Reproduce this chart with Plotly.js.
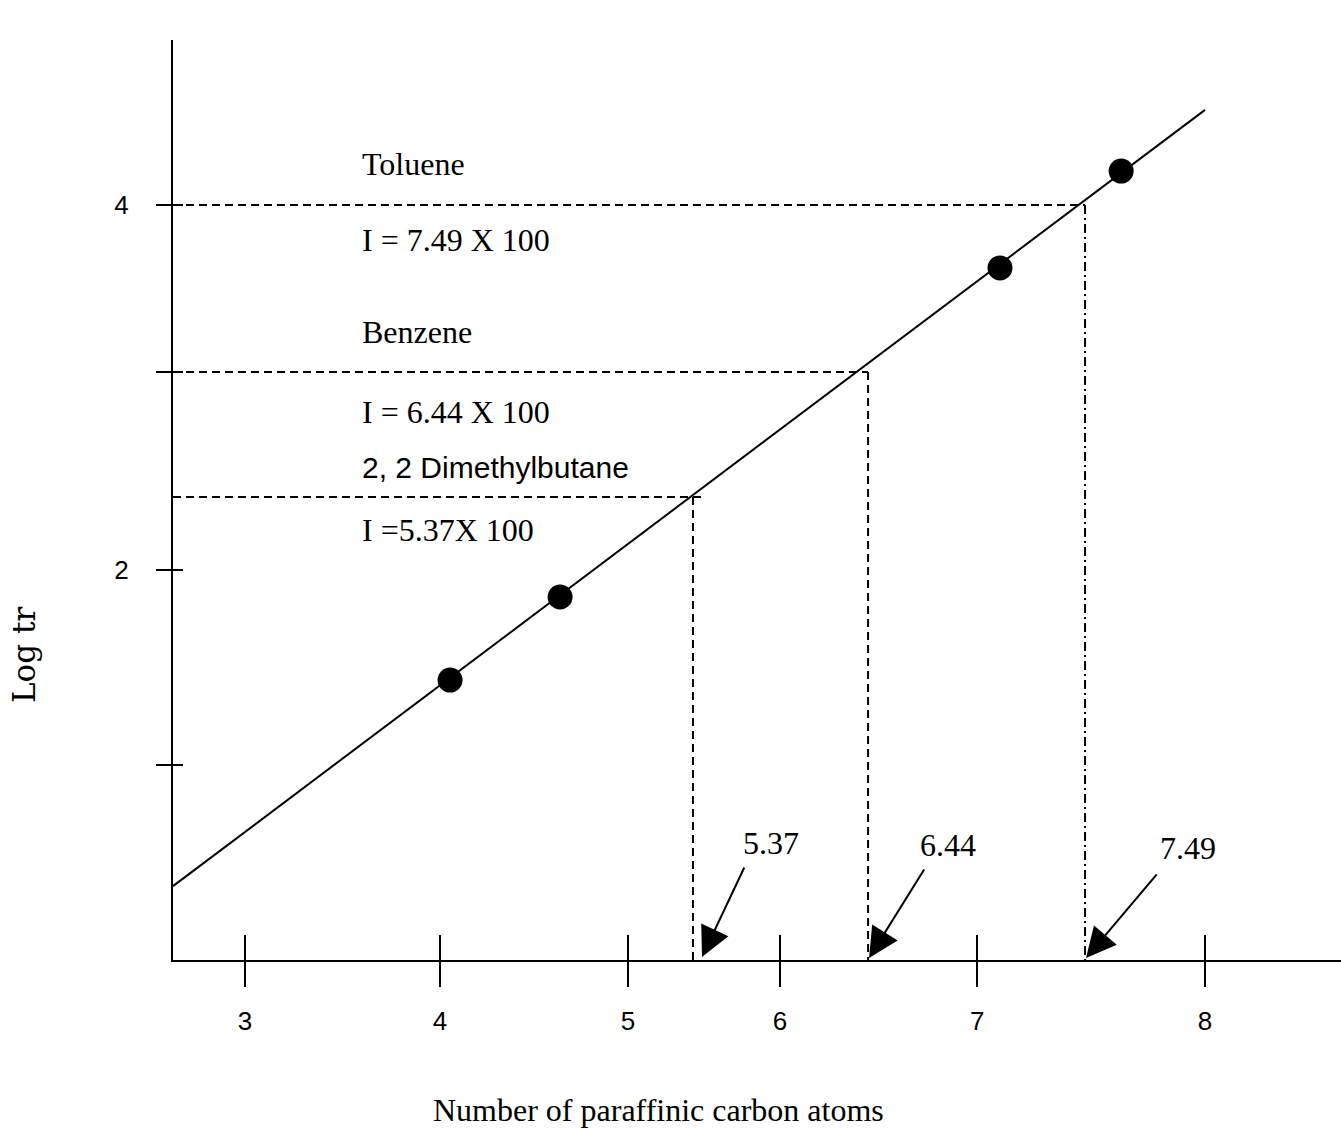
<!DOCTYPE html>
<html>
<head>
<meta charset="utf-8">
<script src="https://cdn.plot.ly/plotly-3.0.1.min.js"></script>
<style>
html,body{margin:0;padding:0;background:#fff;}
#chart{width:1341px;height:1130px;}
</style>
</head>
<body>
<div id="chart"></div>
<script>
// Axis units: x is a uniform scale through the drawn "3" and "8" ticks; y through "2" and "4".
var xTickVals = [3, 4.016, 4.995, 5.786, 6.813, 8];
var xTickText = ['3', '4', '5', '6', '7', '8'];
var yTickVals = [0.932, 2, 3.085, 4];
var yTickText = ['', '2', '', '4'];

// Measured points (paraffin standards)
var pointX = [4.068, 4.641, 6.932, 7.563];
var pointY = [1.397, 1.852, 3.655, 4.186];

// Fitted straight line
var lineX = [2.625, 8.000];
var lineY = [0.268, 4.521];

// Compounds: log tr level, horizontal end, vertical drop position
var compounds = ['2, 2 Dimethylbutane', 'Benzene', 'Toluene'];
var indexValues = ['5.37', '6.44', '7.49'];
var levelY = [2.400, 3.085, 4.000];
var hEndX = [5.380, 6.245, 7.375];
var dropX = [5.333, 6.245, 7.375];
var dashStyles = ['8px,5px', '8px,5px', '9px,4px,2px,4px'];

var xMin = 2.625, xMax = 8.708, yMin = -0.137, yMax = 4.904;

var traces = [];
for (var i = 0; i < compounds.length; i++) {
  traces.push({
    x: [xMin, hEndX[i]], y: [levelY[i], levelY[i]],
    mode: 'lines', line: {color: '#000', width: 2, dash: '8px,5px'},
    hoverinfo: 'skip', showlegend: false
  });
  traces.push({
    x: [dropX[i], dropX[i]], y: [levelY[i], yMin],
    mode: 'lines', line: {color: '#000', width: 2, dash: dashStyles[i]},
    hoverinfo: 'skip', showlegend: false
  });
}
traces.push({
  x: lineX, y: lineY, mode: 'lines',
  line: {color: '#000', width: 2}, showlegend: false, hoverinfo: 'skip'
});
traces.push({
  x: pointX, y: pointY, mode: 'markers',
  marker: {color: '#000', size: 25}, showlegend: false
});
// invisible trace on overlay axes so crossing ticks are drawn
traces.push({
  x: [xMin], y: [yMin], xaxis: 'x2', yaxis: 'y2', mode: 'markers',
  marker: {opacity: 0}, showlegend: false, hoverinfo: 'skip'
});

var serif = 'Liberation Serif, Times New Roman, serif';
var sans = 'Liberation Sans, Arial, sans-serif';
var tf = {family: serif, size: 32, color: '#000'};

function txt(x, y, t, font) {
  return {x: x, y: y, xref: 'x', yref: 'y', text: t, showarrow: false,
          xanchor: 'left', yanchor: 'middle', font: font || tf};
}

function arrow(tx, ty, ax, ay) {
  return {x: tx, y: ty, ax: ax, ay: ay, xref: 'x', yref: 'y', axref: 'x', ayref: 'y',
          text: '', showarrow: true, arrowhead: 2, arrowsize: 3, arrowwidth: 2,
          arrowcolor: '#000', standoff: 0};
}

var annotations = [
  txt(3.600, 4.225, 'Toluene'),
  txt(3.600, 3.808, 'I = 7.49 X 100'),
  txt(3.600, 3.304, 'Benzene'),
  txt(3.600, 2.866, 'I = 6.44 X 100'),
  txt(3.600, 2.559, compounds[0], {family: sans, size: 30, color: '#000'}),
  txt(3.600, 2.219, 'I =5.37X 100'),
  arrow(5.380, -0.121, 5.604, 0.378),
  arrow(6.250, -0.126, 6.542, 0.367),
  arrow(7.380, -0.126, 7.755, 0.340),
  {x: 5.740, y: 0.504, xref: 'x', yref: 'y', text: indexValues[0], showarrow: false, font: tf},
  {x: 6.661, y: 0.493, xref: 'x', yref: 'y', text: indexValues[1], showarrow: false, font: tf},
  {x: 7.911, y: 0.477, xref: 'x', yref: 'y', text: indexValues[2], showarrow: false, font: tf},
  // axis titles
  {xref: 'paper', yref: 'paper', x: (658 - 173) / 1168, y: -(1110 - 960) / 920,
   text: 'Number of paraffinic carbon atoms', showarrow: false,
   xanchor: 'center', yanchor: 'middle', font: tf},
  {xref: 'paper', yref: 'paper', x: -(173 - 24) / 1168, y: (960 - 655) / 920,
   text: 'Log tr', showarrow: false, textangle: -90,
   xanchor: 'center', yanchor: 'middle', font: {family: 'DejaVu Serif, serif', size: 31, color: '#000'}}
];

var baseX = {
  range: [xMin, xMax], showgrid: false, zeroline: false,
  tickvals: xTickVals, ticktext: xTickText, ticklen: 25, tickwidth: 2, tickcolor: '#000'
};
var baseY = {
  range: [yMin, yMax], showgrid: false, zeroline: false,
  tickvals: yTickVals, ticktext: yTickText, tickwidth: 2, tickcolor: '#000'
};

var layout = {
  width: 1341, height: 1130,
  margin: {l: 173, r: 0, t: 40, b: 170},
  paper_bgcolor: '#fff', plot_bgcolor: '#fff',
  showlegend: false,
  xaxis: Object.assign({}, baseX, {
    ticks: 'outside', showline: true, linecolor: '#000', linewidth: 2,
    tickfont: {family: sans, size: 26, color: '#000'}, ticklabelstandoff: 12
  }),
  xaxis2: Object.assign({}, baseX, {
    overlaying: 'x', anchor: 'y', ticks: 'inside', showline: false, showticklabels: false
  }),
  yaxis: Object.assign({}, baseY, {
    ticks: 'outside', ticklen: 15, showline: true, linecolor: '#000', linewidth: 2,
    tickfont: {family: sans, size: 26, color: '#000'}, ticklabelstandoff: 22
  }),
  yaxis2: Object.assign({}, baseY, {
    overlaying: 'y', anchor: 'x', ticks: 'inside', ticklen: 10, showline: false, showticklabels: false
  }),
  annotations: annotations
};

Plotly.newPlot('chart', traces, layout, {displayModeBar: false, staticPlot: true});
</script>
</body>
</html>
